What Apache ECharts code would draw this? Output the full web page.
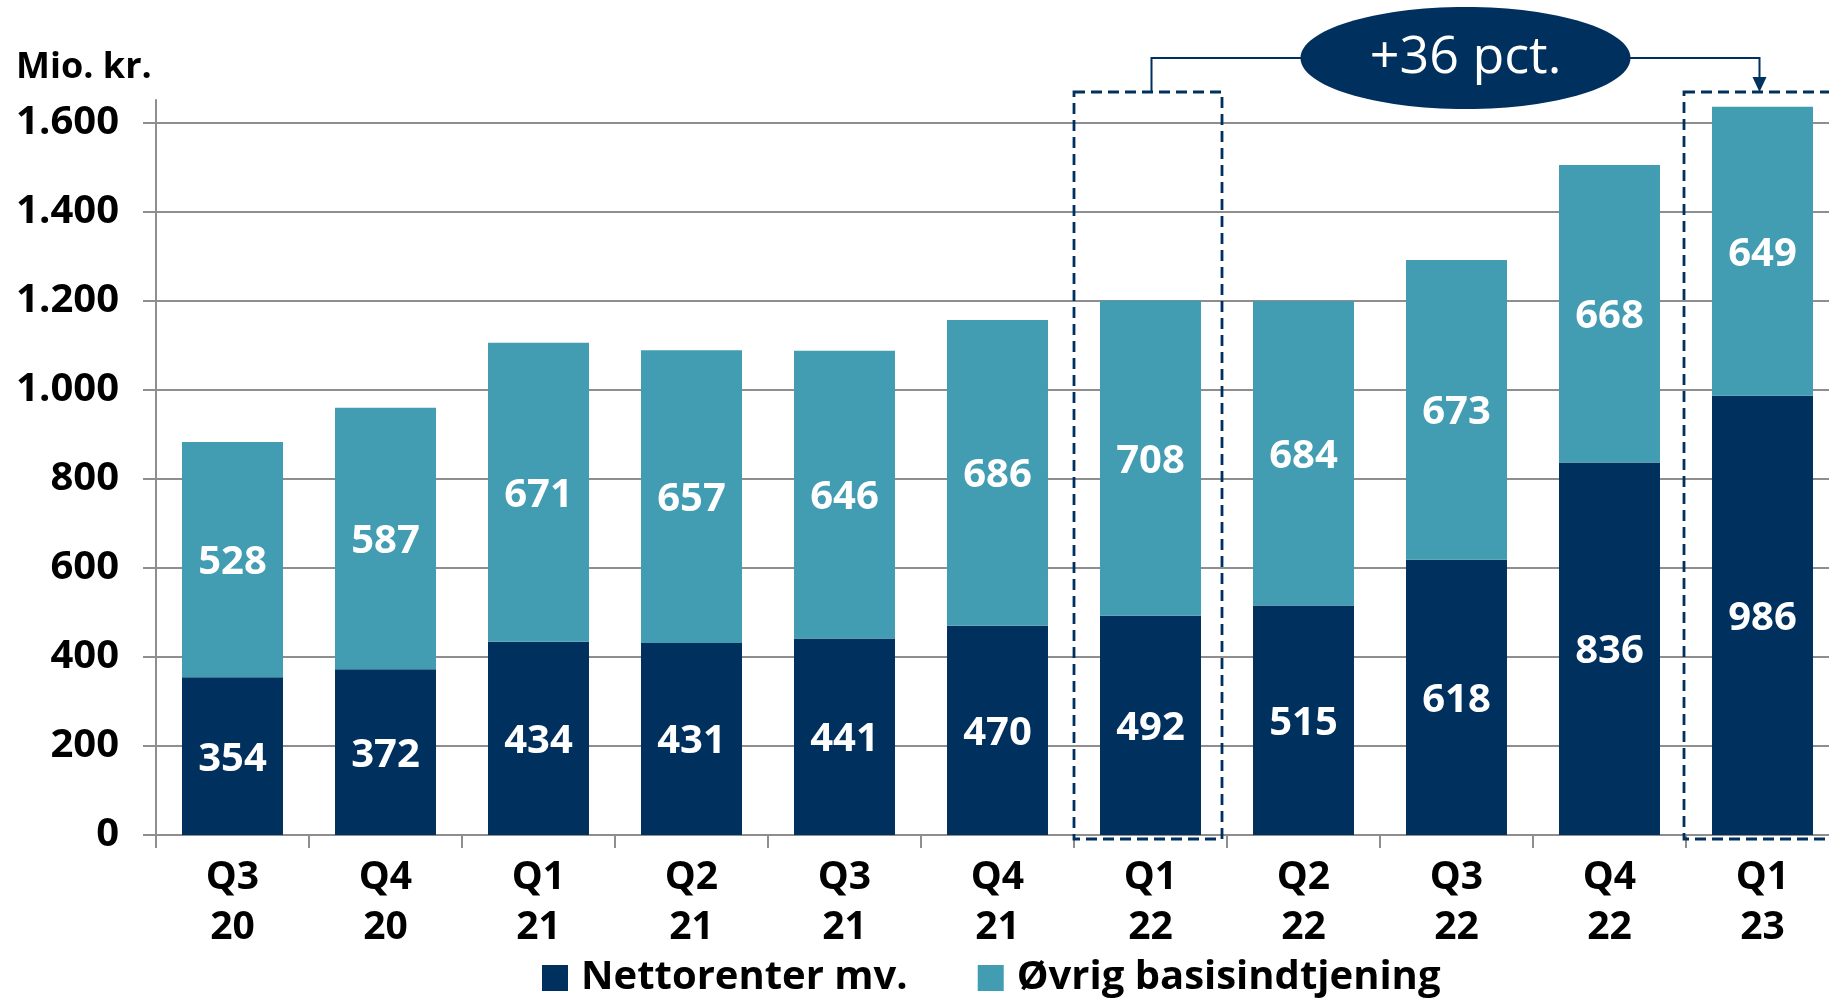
<!DOCTYPE html>
<html><head><meta charset="utf-8">
<script src="https://cdn.jsdelivr.net/npm/echarts@6/dist/echarts.min.js"></script>
<style>html,body{margin:0;padding:0;background:#fff;overflow:hidden}#c{width:1849px;height:1001px}</style>
</head><body><div id="c"></div>
<script>
const categories = ['Q3\n20','Q4\n20','Q1\n21','Q2\n21','Q3\n21','Q4\n21','Q1\n22','Q2\n22','Q3\n22','Q4\n22','Q1\n23'];
const nettorenter = [354,372,434,431,441,470,492,515,618,836,986];
const oevrig = [528,587,671,657,646,686,708,684,673,668,649];
const yTicks = [0,200,400,600,800,1000,1200,1400,1600];
const yMax = 1650;
const seriesNames = ['Nettorenter mv.','Øvrig basisindtjening'];
const unitLabel = 'Mio. kr.';
const annotationText = '+36 pct.';
const highlightFrom = 6, highlightTo = 10;

const NAVY = '#00305E', TEAL = '#429CB2', GRID = '#8E8E8E';
const FONT = '"Open Sans", "Noto Sans", sans-serif';

const chart = echarts.init(document.getElementById('c'), null, {renderer:'canvas'});
const fmt = v => String(v).replace(/\B(?=(\d{3})+(?!\d))/g, '.');

chart.setOption({
  animation:false,
  backgroundColor:'#fff',
  textStyle:{fontFamily:FONT},
  title:{text:unitLabel, left:16, top:50, padding:0, textStyle:{fontSize:36, fontWeight:'bold', color:'#000', fontFamily:FONT}},
  grid:{left:156, right:10, top:100, bottom:166},
  legend:{left:542, top:958, padding:0, itemWidth:26, itemHeight:26, itemGap:70, icon:'rect',
    textStyle:{fontSize:40, fontWeight:'bold', color:'#000', fontFamily:FONT, padding:[0,0,0,8]},
    data:seriesNames},
  xAxis:{type:'category', data:categories,
    axisLine:{lineStyle:{color:GRID, width:2}},
    axisTick:{show:true, length:13, lineStyle:{color:GRID, width:2}},
    axisLabel:{interval:0, fontSize:39, fontWeight:'bold', color:'#000', lineHeight:50, margin:18, fontFamily:FONT}},
  yAxis:{type:'value', min:0, max:yMax,
    axisLine:{show:true, lineStyle:{color:GRID, width:2}},
    axisTick:{show:true, length:13, customValues:yTicks, lineStyle:{color:GRID, width:2}},
    axisLabel:{customValues:yTicks, margin:37, fontSize:40, fontWeight:'bold', color:'#000', formatter:fmt, fontFamily:FONT},
    splitLine:{show:true, lineStyle:{color:GRID, width:2}}},
  series:[
    {name:seriesNames[0], type:'bar', stack:'s', data:nettorenter, barCategoryGap:'34%',
     itemStyle:{color:NAVY},
     label:{show:true, position:'inside', offset:[0,3], color:'#fff', fontSize:40, fontWeight:'bold', fontFamily:FONT}},
    {name:seriesNames[1], type:'bar', stack:'s', data:oevrig, barCategoryGap:'34%',
     itemStyle:{color:TEAL},
     label:{show:true, position:'inside', offset:[0,3], color:'#fff', fontSize:40, fontWeight:'bold', fontFamily:FONT}}
  ]
});

// annotation built from axis positions
const p0 = chart.convertToPixel({gridIndex:0}, [highlightFrom, 0]);
const p1 = chart.convertToPixel({gridIndex:0}, [highlightTo, 0]);
const band = chart.convertToPixel({gridIndex:0}, [highlightFrom+1, 0])[0] - p0[0];
const topY = chart.convertToPixel({gridIndex:0}, [0, yMax])[1];
const boxTop = topY - 8, boxBottom = p0[1] + 4;
const lineY = topY - 42;
const ex = (p0[0] + p1[0]) / 2 + 9, ery = 51, erx = 165;
const dash = {stroke:NAVY, lineWidth:2.8, lineDash:[11,6], fill:null};
const ax = p1[0] - 3;
chart.setOption({graphic:[
  {type:'rect', shape:{x:p0[0]-band/2, y:boxTop, width:band-5, height:boxBottom-boxTop}, style:dash, z:100},
  {type:'rect', shape:{x:p1[0]-band/2-2, y:boxTop, width:band+20, height:boxBottom-boxTop}, style:dash, z:100},
  {type:'polyline', shape:{points:[[p0[0]+1, boxTop],[p0[0]+1, lineY],[ex-erx+5, lineY]]}, style:{stroke:NAVY, lineWidth:2, fill:null}, z:100},
  {type:'polyline', shape:{points:[[ex+erx-5, lineY],[ax, lineY],[ax, boxTop-14]]}, style:{stroke:NAVY, lineWidth:2, fill:null}, z:100},
  {type:'polygon', shape:{points:[[ax-7, boxTop-15],[ax+7, boxTop-15],[ax, boxTop]]}, style:{fill:NAVY}, z:100},
  {type:'ellipse', shape:{cx:ex, cy:lineY, rx:erx, ry:ery}, style:{fill:NAVY}, z:101},
  {type:'text', x:ex, y:lineY, style:{text:annotationText, fill:'#fff', font:'normal 52px ' + FONT, align:'center', verticalAlign:'middle'}, z:102}
]});
</script></body></html>
